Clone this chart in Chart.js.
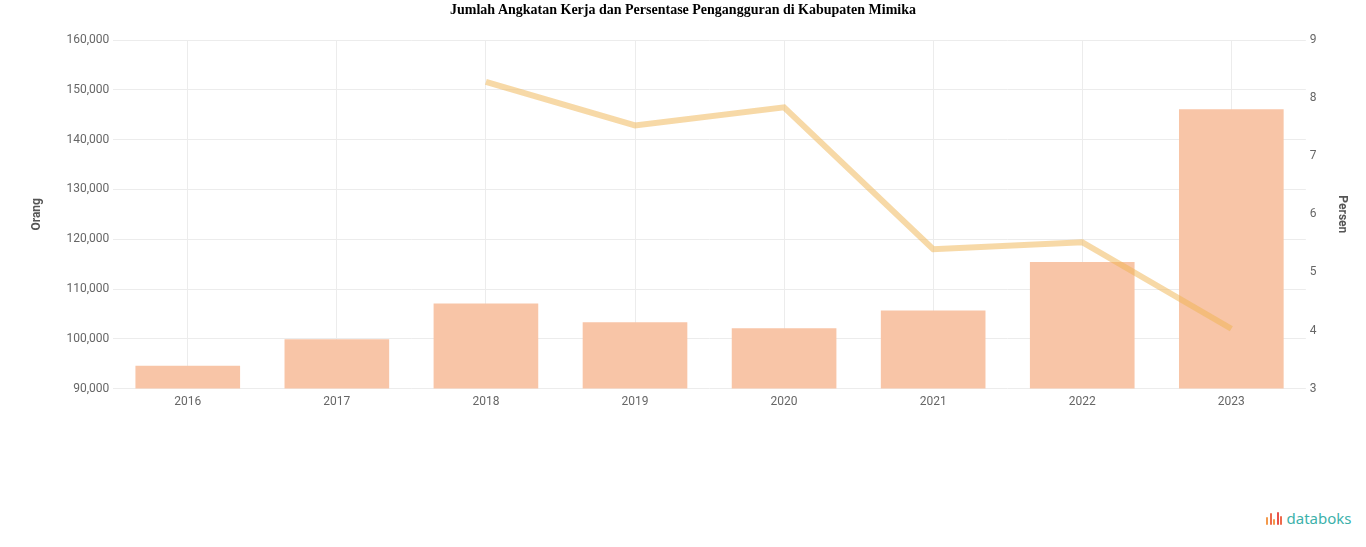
<!DOCTYPE html>
<html>
<head>
<meta charset="utf-8">
<script src="https://cdn.jsdelivr.net/npm/chart.js@4.4.1/dist/chart.umd.min.js"></script>
<style>
  html, body { margin: 0; padding: 0; background: #fff; }
  body { width: 1366px; height: 547px; position: relative; overflow: hidden; }
  #title { position: absolute; left: 0; top: 1px; width: 1366px; text-align: center;
           font-family: "Liberation Serif", "Times New Roman", serif; font-weight: bold; font-size: 14px; color: #000; line-height: 18px; }
  #wrap { position: absolute; left: 0; top: 0; width: 1366px; height: 415px; }
  #logo { position: absolute; left: 1266px; top: 506px; height: 24px; display: flex; align-items: center;
          font-family: "Noto Sans", "Open Sans", sans-serif; font-size: 15px; color: #3cb1aa; }
  #logo .icon { display: flex; align-items: flex-end; height: 14px; margin-right: 3px; }
  #logo .icon span { display: inline-block; width: 2px; margin-right: 1.5px; border-radius: 1px; }
</style>
</head>
<body>
<div id="wrap"><canvas id="c"></canvas></div>
<div id="title"></div>
<div id="logo"><div class="icon">
  <span style="height:8px;background:#f39a4c"></span>
  <span style="height:12px;background:#ee6a4c"></span>
  <span style="height:6px;background:#f39a4c"></span>
  <span style="height:13px;background:#e9514a"></span>
  <span style="height:9px;background:#ee6a4c"></span>
</div>databoks</div>
<script>
const categories = ["2016", "2017", "2018", "2019", "2020", "2021", "2022", "2023"];
const angkatanKerja = [94600, 99900, 107100, 103300, 102100, 105700, 115400, 146100];
const persenPengangguran = [null, null, 8.28, 7.53, 7.84, 5.40, 5.52, 4.03];
const leftTicks = [90000, 100000, 110000, 120000, 130000, 140000, 150000, 160000];
const rightTicks = [3, 4, 5, 6, 7, 8, 9];
const titleText = "Jumlah Angkatan Kerja dan Persentase Pengangguran di Kabupaten Mimika";
const leftTitle = "Orang";
const rightTitle = "Persen";

document.getElementById('title').textContent = titleText;

const tickFont = { family: 'Roboto, sans-serif', size: 12 };
const ctx = document.getElementById('c');
new Chart(ctx, {
  data: {
    labels: categories,
    datasets: [
      {
        type: 'line',
        label: 'Persentase Pengangguran',
        data: persenPengangguran,
        yAxisID: 'y1',
        borderColor: 'rgba(240,180,80,0.5)',
        backgroundColor: 'rgba(240,180,80,0.5)',
        borderWidth: 6,
        pointRadius: 0,
        tension: 0,
        order: 0
      },
      {
        type: 'bar',
        label: 'Angkatan Kerja',
        data: angkatanKerja,
        yAxisID: 'y',
        backgroundColor: '#f8c5a7',
        borderWidth: 0,
        barPercentage: 0.9,
        categoryPercentage: 0.78,
        order: 1
      }
    ]
  },
  options: {
    responsive: true,
    maintainAspectRatio: false,
    animation: false,
    layout: { padding: { left: 30, right: 17, top: 40, bottom: 0 } },
    plugins: {
      legend: { display: false },
      tooltip: { enabled: false },
      title: { display: false }
    },
    scales: {
      x: {
        grid: { color: '#ececec', offset: false, drawTicks: false },
        border: { display: false },
        ticks: { color: '#666', font: tickFont, padding: 6 }
      },
      y: {
        position: 'left',
        min: 90000, max: 160000,
        afterBuildTicks: (axis) => { axis.ticks = leftTicks.map(v => ({ value: v })); },
        grid: { color: '#ececec', drawTicks: false },
        border: { display: false },
        ticks: {
          color: '#666', font: tickFont, padding: 4,
          callback: (v) => Number(v).toLocaleString('en-US')
        },
        title: { display: true, text: leftTitle, color: '#555', font: { family: 'Roboto, sans-serif', size: 12, weight: 'bold' }, padding: { top: 0, bottom: 18 } }
      },
      y1: {
        position: 'right',
        min: 3, max: 9,
        afterBuildTicks: (axis) => { axis.ticks = rightTicks.map(v => ({ value: v })); },
        grid: { display: false, drawTicks: false },
        border: { display: false },
        ticks: { color: '#666', font: tickFont, padding: 4 },
        title: { display: true, text: rightTitle, color: '#555', font: { family: 'Roboto, sans-serif', size: 12, weight: 'bold' }, padding: { top: 0, bottom: 14 } }
      }
    }
  }
});
</script>
</body>
</html>
